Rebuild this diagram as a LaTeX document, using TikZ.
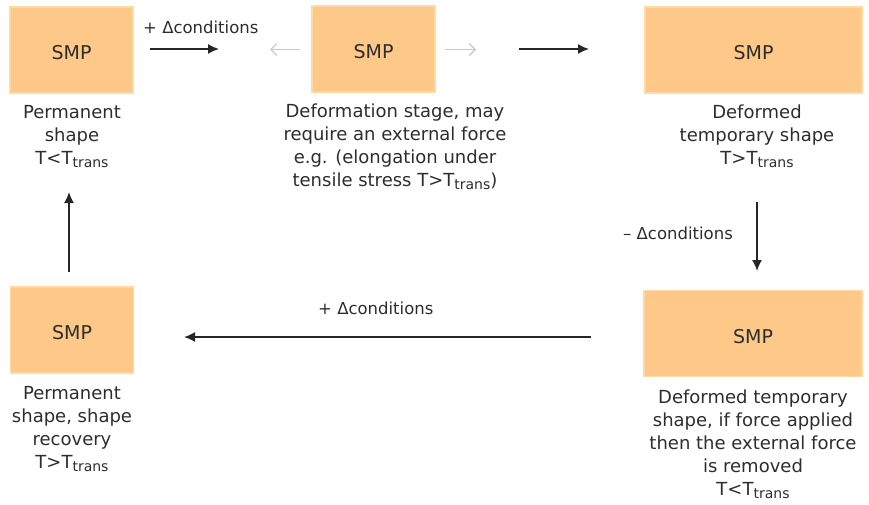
\documentclass[tikz,border=0pt]{standalone}
\usepackage{fontspec}
\setmainfont{DejaVu Sans}
\usetikzlibrary{arrows.meta}
\definecolor{smpfill}{RGB}{253,200,136}
\definecolor{smpborder}{RGB}{255,217,160}
\definecolor{txt}{RGB}{45,45,45}
\definecolor{lightarr}{RGB}{200,200,200}
\newcommand{\trs}{\raisebox{-0.35ex}{\fontsize{14}{14}\selectfont trans}}
\tikzset{
  smpbox/.style={draw=smpborder, line width=1.5pt, fill=smpfill, minimum width=#1, minimum height=86pt, inner sep=0pt, text height=19pt, text depth=0pt, font=\fontsize{19}{22}\selectfont, text=txt},
  smpbox/.default=123pt,
  desc/.style={align=center, font=\fontsize{18}{22.8}\selectfont, text=txt, inner sep=0pt, anchor=base},
  lbl/.style={font=\fontsize{16.5}{20}\selectfont, text=txt, inner sep=0pt, anchor=base},
  darr/.style={line width=1.6pt, draw=black!85, -{Latex[length=11pt,width=10pt]}},
  garr/.style={line width=1.2pt, draw=lightarr, -{Straight Barb[length=6pt,width=12pt]}}
}
\begin{document}
\begin{tikzpicture}[x=1pt,y=-1pt]
\useasboundingbox (0,0) rectangle (869,504);
% boxes
\node[smpbox] (b1) at (71.5,50) {SMP};
\node[smpbox] (b2) at (373.5,49) {SMP};
\node[smpbox=217pt] (b3) at (753.5,50) {SMP};
\node[smpbox] (b4) at (72,330) {SMP};
\node[smpbox=218pt] (b5) at (753,333.5) {SMP};
% descriptions (anchored at the baseline of the last line)
\node[desc] (d1) at (72,164) {Permanent\\shape\\T<T\trs};
\node[desc] (d2) at (395,186) {Deformation stage, may\\require an external force\\e.g. (elongation under\\tensile stress T>T\trs)};
\node[desc] (d3) at (757,164) {Deformed\\temporary shape\\T>T\trs};
\node[desc] (d4) at (72,468) {Permanent\\shape, shape\\recovery\\T>T\trs};
\node[desc] (d5) at (753,495) {Deformed temporary\\shape, if force applied\\then the external force\\is removed\\T<T\trs};
% connector endpoints
\coordinate (a1s) at (150,49);
\coordinate (a1e) at (219,49);
\coordinate (g1s) at (300,49.5);
\coordinate (g1e) at (270,49.5);
\coordinate (g2s) at (445,49.5);
\coordinate (g2e) at (476,49.5);
\coordinate (a2s) at (519,49);
\coordinate (a2e) at (589,49);
\coordinate (a3s) at (757,202);
\coordinate (a3e) at (757,271);
\coordinate (a4s) at (591,337);
\coordinate (a4e) at (184,337);
\coordinate (a5s) at (69,272);
\coordinate (a5e) at (69,192);
% arrows
\draw[darr] (a1s) -- (a1e);
\draw[garr] (g1s) -- (g1e);
\draw[garr] (g2s) -- (g2e);
\draw[darr] (a2s) -- (a2e);
\draw[darr] (a3s) -- (a3e);
\draw[darr] (a4s) -- (a4e);
\draw[darr] (a5s) -- (a5e);
% labels
\node[lbl, anchor=base west] (l1) at (143,33) {+ \char"0394 conditions};
\node[lbl, anchor=base west] (l2) at (623,239) {\char"2013\ \char"0394 conditions};
\node[lbl, anchor=base west] (l3) at (318,314) {+ \char"0394 conditions};
\end{tikzpicture}
\end{document}
